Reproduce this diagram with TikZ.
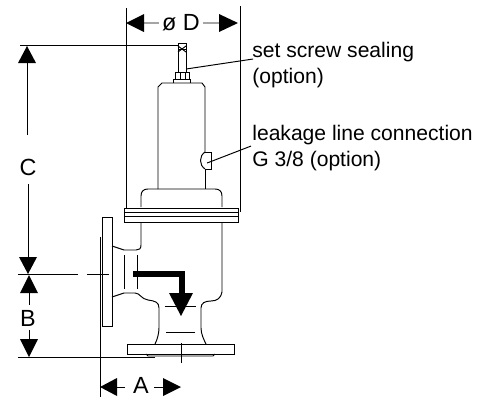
\documentclass[tikz,border=0pt]{standalone}
\usepackage{fontspec}
\setmainfont{Liberation Sans}
\tikzset{dimtext/.style={inner sep=0pt,font=\fontsize{13.3}{15}\selectfont},
  notetext/.style={inner sep=0pt,anchor=west,align=left,font=\fontsize{12}{15.3}\selectfont},
  outline/.style={black,line width=0.55pt},
  dimline/.style={black,line width=0.55pt}}
\begin{document}
\begin{tikzpicture}[scale=0.02]
\useasboundingbox (0,0) rectangle (488,-397);
% labels
\node [dimtext] (labeld) at (181,-23) {ø D};
\node [dimtext] (labelc) at (28,-167) {C};
\node [dimtext] (labelb) at (28,-318) {B};
\node [dimtext] (labela) at (141,-385) {A};
\node [notetext] (notescrew) at (252,-65) {set screw sealing\\(option)};
\node [notetext] (noteleak) at (252,-148) {leakage line connection\\G 3/8 (option)};
\coordinate (screwend) at (186,-69);
\coordinate (leakend) at (207,-163);
\draw [dimline] (notescrew.west) ++(1,6) -- (screwend);
\draw [dimline] (noteleak.west) ++(-1,2) -- (leakend);
% extension lines
\draw [dimline] (126,-8) -- (126,-208);
\draw [dimline] (240,-6) -- (240,-212);
\draw [dimline] (20,-45) -- (178,-45);
\draw [dimline] (18,-274) -- (78,-274);
\draw [dimline] (87,-274) -- (109,-274);
\draw [dimline] (18,-357) -- (155,-357);
\draw [dimline] (100,-237) -- (100,-397);
\draw [dimline] (181,-343) -- (181,-363);
% dimension D
\draw [dimline] (labeld.west) ++(-3,0) -- (144,-23);
\fill [black] (126,-23) -- (144,-14) -- (144,-32);
\draw [dimline] (labeld.east) ++(3,0) -- (219,-23);
\fill [black] (238,-23) -- (219,-14) -- (219,-32);
% dimension C
\draw [dimline] (27,-63) -- (27,-135);
\fill [black] (27,-46) -- (18,-63) -- (36,-63);
\draw [dimline] (28,-184) -- (28,-257);
\fill [black] (28,-274) -- (19,-257) -- (37,-257);
% dimension B
\draw [dimline] (29,-293) -- (29,-305);
\fill [black] (29,-275) -- (20,-293) -- (38,-293);
\draw [dimline] (29,-330) -- (29,-339);
\fill [black] (29,-357) -- (20,-339) -- (38,-339);
% dimension A
\draw [dimline] (117,-387) -- (125,-387);
\fill [black] (100,-387) -- (117,-378) -- (117,-396);
\draw [dimline] (154,-387) -- (163,-387);
\fill [black] (181,-387) -- (163,-378) -- (163,-396);
% screw and nut
\draw [outline] (178,-72) -- (178,-43) -- (186,-43) -- (186,-72);
\draw [outline] (178,-46) -- (186,-52);
\draw [outline] (178,-52) -- (186,-46);
\draw [outline] (178,-49) -- (186,-49);
\draw [outline] (175,-79) -- (175,-72) -- (189,-72) -- (189,-79);
\draw [outline] (180,-72) -- (180,-79);
\draw [outline] (185,-72) -- (185,-79);
\draw [outline] (173,-83) -- (173,-79) -- (190,-79) -- (190,-83);
% spring housing
\draw [outline] (158,-189) -- (158,-87) -- (162,-83) -- (202,-83) -- (205,-87) -- (205,-152);
\draw [outline] (205,-169) -- (205,-189);
\draw [outline] (205,-152) -- (211,-152) -- (211,-169) -- (205,-169);
\draw [outline] (205,-152) .. controls (199,-156) and (199,-165) .. (205,-169);
% bonnet
\draw [outline] (141,-207) -- (141,-196) .. controls (141,-191) and (144,-189) .. (148,-189) -- (215,-189) .. controls (219,-189) and (222,-191) .. (222,-196) -- (222,-207);
% upper flange
\draw [outline] (124,-208) rectangle (238,-222);
\draw [outline] (124,-212) -- (238,-212);
\draw [outline] (124,-216) -- (238,-216);
% valve body
\draw [outline] (222,-222) -- (222,-292) .. controls (221,-298) and (217,-301) .. (211,-301) .. controls (205,-301) and (201,-303) .. (201,-308) -- (201,-328) .. controls (201,-334) and (204,-340) .. (206,-344);
\draw [outline] (141,-222) -- (141,-245) .. controls (141,-249) and (139,-250) .. (136,-250) -- (124,-250) -- (112,-246);
\draw [outline] (112,-297) -- (124,-293) -- (135,-293) .. controls (140,-293) and (141,-299) .. (148,-300) .. controls (155,-301) and (159,-302) .. (159,-308) -- (159,-328) .. controls (159,-334) and (157,-340) .. (155,-344);
\draw [outline] (124,-255) -- (124,-289);
\draw [outline] (137,-255) -- (137,-289);
\draw [outline] (165,-306) -- (196,-306);
\draw [outline] (166,-332) -- (195,-332);
% inlet flange
\draw [outline] (102,-217) rectangle (112,-326);
% outlet flange
\draw [outline] (127,-344) rectangle (234,-354);
\draw [outline] (146,-354) -- (148,-356) -- (213,-356) -- (215,-354);
% flow arrow
\draw [black,line width=2.9pt] (133,-274) -- (182,-274) -- (182,-294);
\fill [black] (181,-316) -- (169,-293) -- (193,-293);
\end{tikzpicture}
\end{document}
